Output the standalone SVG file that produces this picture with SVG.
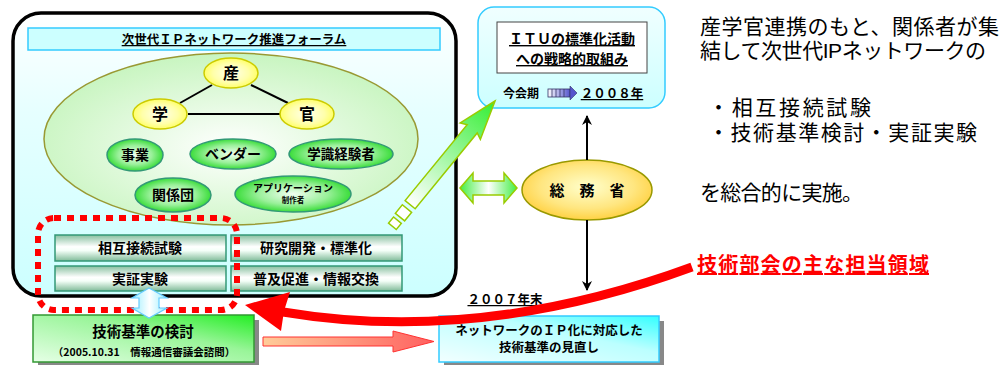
<svg xmlns="http://www.w3.org/2000/svg" width="1003" height="365" viewBox="0 0 1003 365">
<defs>
<linearGradient id="gMain" x1="0" y1="0" x2="0" y2="1"><stop offset="0" stop-color="#ffffff"/><stop offset="0.35" stop-color="#e6ffff"/><stop offset="1" stop-color="#ccffff"/></linearGradient>
<radialGradient id="gBig" cx="0.5" cy="0.55" r="0.55"><stop offset="0" stop-color="#ffffff"/><stop offset="1" stop-color="#c8f5c0"/></radialGradient>
<radialGradient id="gYel" cx="0.5" cy="0.5" r="0.55"><stop offset="0" stop-color="#ffffee"/><stop offset="0.6" stop-color="#ffffaa"/><stop offset="1" stop-color="#ffff55"/></radialGradient>
<radialGradient id="gGrn" cx="0.5" cy="0.5" r="0.55"><stop offset="0" stop-color="#f2fff2"/><stop offset="0.55" stop-color="#99f099"/><stop offset="1" stop-color="#22d822"/></radialGradient>
<radialGradient id="gOra" cx="0.5" cy="0.45" r="0.6"><stop offset="0" stop-color="#ffffcc"/><stop offset="0.6" stop-color="#ffe680"/><stop offset="1" stop-color="#ffcc33"/></radialGradient>
<linearGradient id="gBar" x1="0" y1="0" x2="0" y2="1"><stop offset="0" stop-color="#88c0a0"/><stop offset="0.45" stop-color="#ffffff"/><stop offset="0.6" stop-color="#f4fff8"/><stop offset="1" stop-color="#80bb99"/></linearGradient>
<linearGradient id="gGbox" x1="0" y1="1" x2="1" y2="0"><stop offset="0" stop-color="#e6ffe6"/><stop offset="0.6" stop-color="#99f599"/><stop offset="1" stop-color="#22ee22"/></linearGradient>
<linearGradient id="gCbox" x1="0" y1="1" x2="1" y2="0"><stop offset="0" stop-color="#f2ffff"/><stop offset="0.6" stop-color="#bbffff"/><stop offset="1" stop-color="#33ffff"/></linearGradient>
<linearGradient id="gItu" x1="0" y1="0" x2="0" y2="1"><stop offset="0" stop-color="#f0ffff"/><stop offset="1" stop-color="#ccffff"/></linearGradient>
<linearGradient id="gCyanArr" x1="0" y1="0" x2="1" y2="0"><stop offset="0" stop-color="#99eeff"/><stop offset="0.5" stop-color="#ffffff"/><stop offset="1" stop-color="#99eeff"/></linearGradient>
<linearGradient id="gHArr" x1="0" y1="0" x2="1" y2="0"><stop offset="0" stop-color="#44ee44"/><stop offset="0.5" stop-color="#ffffff"/><stop offset="1" stop-color="#44ee44"/></linearGradient>
<linearGradient id="gDiag" gradientUnits="userSpaceOnUse" x1="-134" y1="0" x2="0" y2="0"><stop offset="0" stop-color="#ffffff"/><stop offset="1" stop-color="#33ee33"/></linearGradient>
<linearGradient id="gOrArr" x1="0" y1="0" x2="1" y2="0"><stop offset="0" stop-color="#ffcc99"/><stop offset="1" stop-color="#ff6060"/></linearGradient>
<linearGradient id="gIcon" x1="0" y1="0" x2="1" y2="0"><stop offset="0" stop-color="#ffffff"/><stop offset="1" stop-color="#5555cc"/></linearGradient>
<marker id="mBlk" viewBox="0 0 10 10" refX="9" refY="5" markerWidth="5" markerHeight="5" orient="auto" markerUnits="strokeWidth"><path d="M0,0 L10,5 L0,10 L3,5 z" fill="#000"/></marker>
</defs>
<style>
text{font-family:"Noto Sans CJK JP","Noto Sans",sans-serif;fill:#000}
.b{font-weight:bold}
.c{text-anchor:middle}
.u{text-decoration:underline}
.bar{fill:url(#gBar);stroke:#339977;stroke-width:1.5}
.gel{fill:url(#gGrn);stroke:#339977;stroke-width:1.5}
.yel{fill:url(#gYel);stroke:#cccc00;stroke-width:1.5}
.rt{font-size:21px;font-family:"Liberation Sans","Noto Sans CJK JP",sans-serif}
</style>
<rect width="1003" height="365" fill="#fff"/>

<g id="forum">
<rect x="13" y="13" width="443" height="283" rx="28" fill="url(#gMain)" stroke="#000" stroke-width="3.5"/>
<rect x="28" y="28" width="412" height="22" fill="#ccffff" stroke="#33ccff" stroke-width="1.5"/>
<text x="234" y="44" class="b c u" font-size="12.5">次世代ＩＰネットワーク推進フォーラム</text>
<ellipse cx="231" cy="139" rx="187" ry="86" fill="url(#gBig)" stroke="#999933" stroke-width="1.5"/>
</g>

<g id="triangle-lines" stroke="#000" stroke-width="2">
<line x1="212" y1="85" x2="180" y2="103"/>
<line x1="251" y1="85" x2="288" y2="103"/>
<line x1="188" y1="114" x2="280" y2="114"/>
</g>

<g id="san"><ellipse cx="231" cy="73" rx="27" ry="15" class="yel"/><text x="231" y="79" class="b c" font-size="16">産</text></g>
<g id="gaku"><ellipse cx="160" cy="114" rx="27" ry="15" class="yel"/><text x="160" y="120" class="b c" font-size="16">学</text></g>
<g id="kan"><ellipse cx="307" cy="114" rx="27" ry="15" class="yel"/><text x="307" y="120" class="b c" font-size="16">官</text></g>

<g id="jigyo"><ellipse cx="135" cy="155" rx="28" ry="16" class="gel"/><text x="135" y="160" class="b c" font-size="14">事業</text></g>
<g id="vendor"><ellipse cx="233" cy="154" rx="43" ry="15" class="gel"/><text x="233" y="159" class="b c" font-size="14">ベンダー</text></g>
<g id="gakushiki"><ellipse cx="341" cy="154" rx="52" ry="15" class="gel"/><text x="341" y="159" class="b c" font-size="13.5">学識経験者</text></g>
<g id="kankeidan"><ellipse cx="173" cy="195" rx="38" ry="17" class="gel"/><text x="173" y="200" class="b c" font-size="14">関係団</text></g>
<g id="app"><ellipse cx="293" cy="194" rx="58" ry="18" class="gel"/><text x="293" y="192" class="b c" font-size="10">アプリケーション</text><text x="293" y="203" class="b c" font-size="7.5">制作者</text></g>

<g id="bar1"><rect x="55" y="235" width="171" height="26" class="bar"/><text x="140" y="253" class="b c" font-size="14">相互接続試験</text></g>
<g id="bar2"><rect x="231" y="235" width="171" height="26" class="bar"/><text x="316" y="253" class="b c" font-size="14">研究開発・標準化</text></g>
<g id="bar3"><rect x="55" y="266" width="171" height="25" class="bar"/><text x="140" y="284" class="b c" font-size="14">実証実験</text></g>
<g id="bar4"><rect x="231" y="266" width="171" height="25" class="bar"/><text x="316" y="284" class="b c" font-size="14">普及促進・情報交換</text></g>

<g id="itu">
<rect x="478" y="7" width="187" height="101" rx="16" fill="url(#gItu)" stroke="#33ccff" stroke-width="1.5"/>
<rect x="497" y="22" width="150" height="51" fill="#fff" stroke="#444" stroke-width="1"/>
<text x="572" y="44" class="b c u" font-size="14">ＩＴＵの標準化活動</text>
<text x="572" y="64" class="b c u" font-size="14">への戦略的取組み</text>
<text x="521" y="98" class="b c" font-size="12">今会期</text>
<rect x="548" y="89" width="22" height="8" fill="url(#gIcon)" stroke="#333366" stroke-width="0.8"/>
<path d="M552,89v8M556,89v8M560,89v8M564,89v8" stroke="#333366" stroke-width="0.8"/>
<path d="M570,86 L577,93 L570,100 z" fill="#5555cc" stroke="#333366" stroke-width="0.6"/>
<text x="612" y="98" class="b c u" font-size="12.5">２００８年</text>
</g>

<g id="soumu">
<ellipse cx="587" cy="190" rx="65" ry="30" fill="url(#gOra)" stroke="#999900" stroke-width="1.5"/>
<text x="587" y="196" class="b c" font-size="15">総　務　省</text>
</g>

<g id="kentou">
<rect x="38" y="320" width="221" height="47" fill="#888"/>
<rect x="33" y="315" width="221" height="47" fill="url(#gGbox)" stroke="#339933" stroke-width="1.5"/>
<text x="143" y="337" class="b c" font-size="14.5">技術基準の検討</text>
<text x="144" y="356" class="b c" font-size="10.5">（2005.10.31　情報通信審議会諮問）</text>
</g>

<g id="minaoshi">
<rect x="444" y="321" width="220" height="46" fill="#888"/>
<rect x="439" y="316" width="220" height="46" fill="url(#gCbox)" stroke="#33ccff" stroke-width="1.5"/>
<text x="549" y="335" class="b c" font-size="12.5">ネットワークのＩＰ化に対応した</text>
<text x="549" y="352" class="b c" font-size="12.5">技術基準の見直し</text>
</g>
<text id="y2007" x="505" y="304" class="b c u" font-size="12.5">２００７年末</text>

<g id="connectors">
<rect x="38" y="218" width="199" height="92" rx="16" fill="none" stroke="#ff0000" stroke-width="6" stroke-dasharray="7 6"/>
<polygon points="149,288 167,298 159,298 159,308 167,308 149,318 132,308 139,308 139,298 132,298" fill="url(#gCyanArr)" stroke="#66ccff" stroke-width="1.2"/>
<polygon points="460,188 473,173 473,181 504,181 504,173 517,188 504,203 504,195 473,195 473,203" fill="url(#gHArr)" stroke="#99cc00" stroke-width="1.5"/>
<g transform="translate(495,101) rotate(-50.7)" stroke="#99cc00" stroke-width="1.5">
<polygon points="0,0 -39,-13 -36,-6.5 -134,-6.5 -134,6.5 -36,6.5 -39,13" fill="url(#gDiag)"/>
<rect x="-150" y="-6" width="11" height="12" fill="#fff"/>
<rect x="-162" y="-5" width="8" height="10" fill="#fff"/>
</g>
<polygon points="263,337 393,337 393,331 434,341.5 393,352 393,346 263,346" fill="url(#gOrArr)" stroke="#ff3333" stroke-width="1"/>
<line x1="587" y1="160" x2="587" y2="116" stroke="#000" stroke-width="2" marker-end="url(#mBlk)"/>
<line x1="587" y1="220" x2="587" y2="290" stroke="#000" stroke-width="2" marker-end="url(#mBlk)"/>
<path d="M692,267 Q480,345 283,312" fill="none" stroke="#ff0000" stroke-width="9"/>
<polygon points="245,305 290,292 284,311 281,331" fill="#ff0000"/>
</g>

<g id="desc">
<text class="rt"><tspan x="700" y="34" textLength="299" lengthAdjust="spacing">産学官連携のもと、関係者が集</tspan><tspan x="700" y="58" textLength="286" lengthAdjust="spacing">結して次世代IPネットワークの</tspan></text>
<text class="rt"><tspan x="708" y="115" textLength="163" lengthAdjust="spacing">・相互接続試験</tspan><tspan x="708" y="140" textLength="269" lengthAdjust="spacing">・技術基準検討・実証実験</tspan></text>
<text x="700" y="200" class="rt" textLength="163" lengthAdjust="spacing">を総合的に実施。</text>
<text x="697" y="272" class="b u" font-size="20" style="fill:#ff0000" textLength="232" lengthAdjust="spacing">技術部会の主な担当領域</text>
</g>
</svg>
